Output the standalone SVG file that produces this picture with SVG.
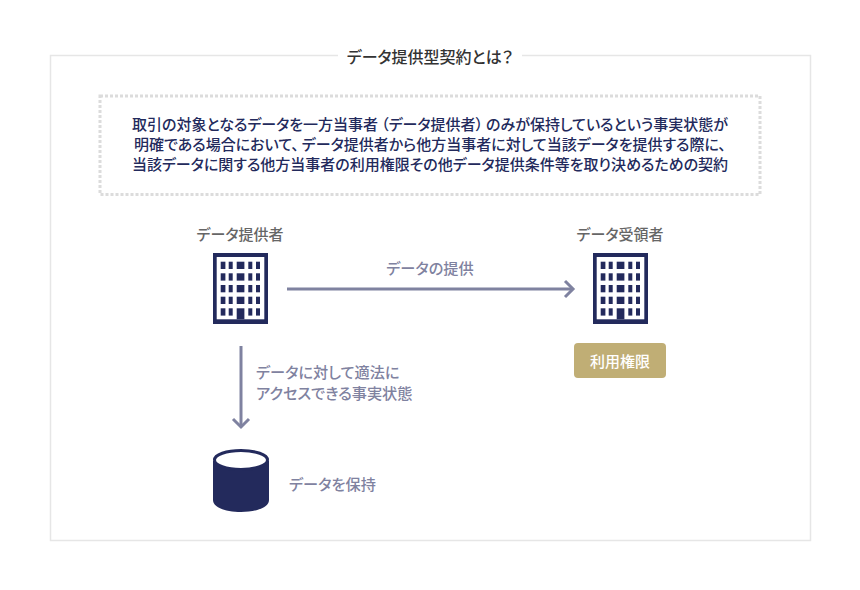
<svg xmlns="http://www.w3.org/2000/svg" xmlns:xlink="http://www.w3.org/1999/xlink" width="860" height="590" viewBox="0 0 860 590">
<style>
text{font-family:"Noto Sans CJK JP","Noto Sans",sans-serif;font-feature-settings:"palt"}
.title{font-size:16px;font-weight:500;fill:#333;text-anchor:middle}
.body{font-size:15px;font-weight:500;fill:#232a5c;text-anchor:middle}
.name{font-size:15px;font-weight:500;fill:#666;text-anchor:middle}
.lab{font-size:15.2px;font-weight:500;fill:#7f82a0}
.conn{fill:none;stroke:#7f82a0;stroke-width:3}
</style>
<defs>
<marker id="ah" markerUnits="userSpaceOnUse" markerWidth="20" markerHeight="20" refX="15" refY="10" orient="auto"><path d="M7 2 L15 10 L7 18" fill="none" stroke="#7f82a0" stroke-width="3"/></marker>
<g id="bld">
<rect width="55" height="71" fill="#232a5c"/>
<rect x="3.7" y="4" width="47.6" height="62.300" fill="#fff"/>
<g fill="#232a5c">
<rect x="7.7" y="8.7" width="4.7" height="7.3"/><rect x="15.7" y="8.7" width="4" height="7.3"/><rect x="23.7" y="8.7" width="7.7" height="7.3"/><rect x="35.3" y="8.7" width="4" height="7.3"/><rect x="43" y="8.7" width="4" height="7.3"/>
<rect x="7.7" y="20.3" width="4.7" height="7.3"/><rect x="15.7" y="20.3" width="4" height="7.3"/><rect x="23.7" y="20.3" width="7.7" height="7.3"/><rect x="35.3" y="20.3" width="4" height="7.3"/><rect x="43" y="20.3" width="4" height="7.3"/>
<rect x="7.7" y="32" width="4.7" height="7.3"/><rect x="15.7" y="32" width="4" height="7.3"/><rect x="23.7" y="32" width="7.7" height="7.3"/><rect x="35.3" y="32" width="4" height="7.3"/><rect x="43" y="32" width="4" height="7.3"/>
<rect x="7.7" y="43.7" width="4.7" height="7.3"/><rect x="15.7" y="43.7" width="4" height="7.3"/><rect x="23.7" y="43.7" width="7.7" height="7.3"/><rect x="35.3" y="43.7" width="4" height="7.3"/><rect x="43" y="43.7" width="4" height="7.3"/>
<rect x="7.7" y="55.3" width="4.7" height="7.3"/><rect x="15.7" y="55.3" width="4" height="7.3"/><rect x="23.7" y="55.3" width="7.7" height="11"/><rect x="35.3" y="55.3" width="4" height="7.3"/><rect x="43" y="55.3" width="4" height="7.3"/>
</g>
</g>
</defs>
<rect width="860" height="590" fill="#fff"/>
<g id="frame">
<rect x="50.5" y="55.5" width="760" height="485" fill="#fff" stroke="#e6e6e6" stroke-width="1.5"/>
<rect x="338" y="45" width="184" height="22" fill="#fff"/>
<text class="title" x="430" y="63">データ提供型契約とは？</text>
</g>
<g id="definition">
<rect x="100" y="96" width="660" height="98.500" fill="#fff" stroke="#dcdcdc" stroke-width="3" stroke-dasharray="3 2"/>
<text class="body" x="430" y="130">取引の対象となるデータを一方当事者<tspan dx="3">（データ提供者）</tspan><tspan dx="3">のみが保持しているという事実状態が</tspan></text>
<text class="body" x="430" y="150">明確である場合において、<tspan dx="3">データ提供者から他方当事者に対して当該データを提供する際に、</tspan></text>
<text class="body" x="430" y="170">当該データに関する他方当事者の利用権限その他データ提供条件等を取り決めるための契約</text>
</g>
<g id="provider">
<text class="name" x="240" y="240">データ提供者</text>
<use xlink:href="#bld" href="#bld" x="213" y="253"/>
</g>
<g id="receiver">
<text class="name" x="620" y="240">データ受領者</text>
<use xlink:href="#bld" href="#bld" x="593" y="253"/>
</g>
<g id="rights">
<rect x="574" y="343" width="92" height="35" rx="4" fill="#c0ae75"/>
<text x="620" y="367" font-size="15" font-weight="500" fill="#fff" text-anchor="middle">利用権限</text>
</g>
<g id="database">
<path d="M213 461 V500 C213 516 269 516 269 500 V461 Z" fill="#232a5c"/>
<ellipse cx="241" cy="460" rx="26.500" ry="9.500" fill="#fff" stroke="#232a5c" stroke-width="3"/>
<text class="lab" x="289" y="490">データを保持</text>
</g>
<g id="connectors">
<path class="conn" d="M287 289 H573" marker-end="url(#ah)"/>
<path class="conn" d="M241 346 V427" marker-end="url(#ah)"/>
<text class="lab" x="430" y="274" text-anchor="middle">データの提供</text>
<text class="lab" x="256" y="378">データに対して適法に</text>
<text class="lab" x="256" y="399">アクセスできる事実状態</text>
</g>
</svg>
